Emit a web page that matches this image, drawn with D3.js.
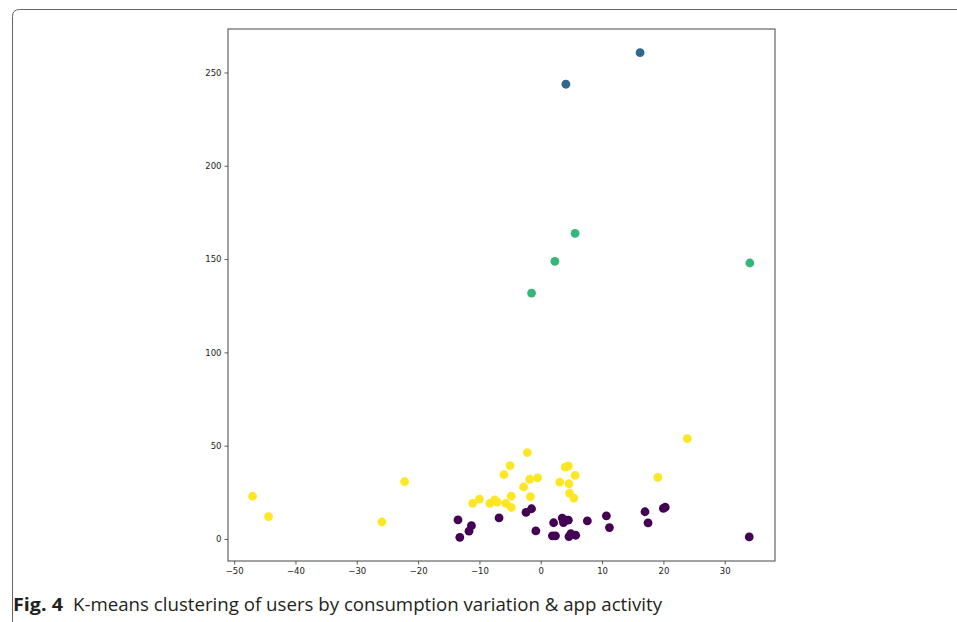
<!DOCTYPE html>
<html>
<head>
<meta charset="utf-8">
<script src="https://cdn.jsdelivr.net/npm/d3@7"></script>
<style>
  body { margin: 0; background: #fff; }
  svg { display: block; }
</style>
</head>
<body>
<div id="chart"></div>
<script>
// consumption variation (x), app activity (y), k-means cluster id
const variation = [
    -13.5, -13.2, -11.3, -11.7, -6.8, -2.4, -1.5, -0.8, 2.1, 3.5, 4.1, 4.5, 3.7,
    1.9, 2.4, 4.6, 4.9, 5.7, 7.6, 10.7, 11.2, 17.0, 17.5, 20.0, 20.3, 34.0,
    16.2, 4.1,
    5.6, 2.3, 34.1, -1.5,
    -47.0, -44.4, -25.9, -22.2, -11.1, -10.0, -8.3, -7.5, -7.1, -5.7, -4.8, -4.8,
    -6.0, -5.0, -2.2, -2.8, -1.8, -0.5, -1.7, 3.1, 4.0, 4.5, 5.6, 4.6, 4.7, 5.4,
    19.1, 23.9
];
const activity = [
    10.2, 0.9, 7.1, 4.2, 11.3, 14.3, 16.2, 4.3, 8.7, 11.2, 10.1, 10.1, 8.8,
    1.7, 1.7, 1.3, 2.8, 2.0, 9.7, 12.4, 6.1, 14.6, 8.6, 16.4, 17.0, 1.1,
    260.6, 243.7,
    163.8, 148.8, 147.9, 131.8,
    22.9, 12.0, 9.1, 30.7, 19.1, 21.4, 19.1, 20.9, 19.7, 19.1, 16.9, 22.9,
    34.5, 39.3, 46.3, 27.9, 32.0, 32.7, 22.7, 30.5, 38.5, 39.1, 34.1, 29.6, 24.6, 21.9,
    33.0, 53.8
];
const cluster = [
    0, 0, 0, 0, 0, 0, 0, 0, 0, 0, 0, 0, 0,
    0, 0, 0, 0, 0, 0, 0, 0, 0, 0, 0, 0, 0,
    1, 1,
    2, 2, 2, 2,
    3, 3, 3, 3, 3, 3, 3, 3, 3, 3, 3, 3,
    3, 3, 3, 3, 3, 3, 3, 3, 3, 3, 3, 3, 3, 3,
    3, 3
];
const xTicks = [-50, -40, -30, -20, -10, 0, 10, 20, 30];
const yTicks = [0, 50, 100, 150, 200, 250];
const captionLabel = 'Fig. 4';
const captionText = 'K-means clustering of users by consumption variation & app activity';

const W = 957, H = 622;
const plot = {left: 228, right: 775, top: 29, bottom: 561};

const svg = d3.select('#chart')
    .append('svg')
    .attr('width', W)
    .attr('height', H);

// page frame with rounded top-left corner (runs off the right and bottom)
svg.append('path')
    .attr('d', 'M12.5,' + (H + 5) + ' V16.5 Q12.5,9.5 19.5,9.5 H' + (W + 5))
    .attr('fill', 'none')
    .attr('stroke', '#666')
    .attr('stroke-width', 1);

const x = d3.scaleLinear()
    .domain([-51.0, 38.2])
    .range([plot.left, plot.right]);

const y = d3.scaleLinear()
    .domain([-11.8, 273.3])
    .range([plot.bottom, plot.top]);

const fmt = d => String(d).replace('-', '\u2212');

const xAxis = svg.append('g')
    .attr('transform', `translate(0, ${plot.bottom})`)
    .call(d3.axisBottom(x).tickValues(xTicks).tickSize(3.5).tickPadding(3).tickFormat(fmt));

const yAxis = svg.append('g')
    .attr('transform', `translate(${plot.left}, 0)`)
    .call(d3.axisLeft(y).tickValues(yTicks).tickSize(3.5).tickPadding(3).tickFormat(fmt));

[xAxis, yAxis].forEach(function(g) {
    g.select('.domain').remove();
    g.selectAll('line').attr('stroke', '#333').attr('stroke-width', 0.8);
    g.selectAll('text')
        .attr('fill', '#222')
        .style('font-family', 'DejaVu Sans')
        .style('font-size', '8.5px');
});

// axes box
svg.append('rect')
    .attr('x', plot.left)
    .attr('y', plot.top)
    .attr('width', plot.right - plot.left)
    .attr('height', plot.bottom - plot.top)
    .attr('fill', 'none')
    .attr('stroke', '#444')
    .attr('stroke-width', 1);

// viridis colours for 4 clusters
const colour = d3.scaleOrdinal()
    .domain([0, 1, 2, 3])
    .range(['#440154', '#31688e', '#35b779', '#fde725']);

const points = variation.map(function(v, i) {
    return {x: v, y: activity[i], c: cluster[i]};
});

svg.append('g')
    .selectAll('circle')
    .data(points)
    .enter()
    .append('circle')
    .attr('cx', d => x(d.x))
    .attr('cy', d => y(d.y))
    .attr('r', 4.4)
    .style('fill', d => colour(d.c));

// caption
const cap = svg.append('text')
    .attr('y', 611)
    .style('font-family', 'Open Sans')
    .style('font-size', '18px')
    .attr('fill', '#231f20');

cap.append('tspan')
    .attr('x', 13)
    .attr('textLength', 50)
    .attr('lengthAdjust', 'spacingAndGlyphs')
    .style('font-weight', 'bold')
    .text(captionLabel);

cap.append('tspan')
    .attr('x', 73)
    .attr('textLength', 589)
    .attr('lengthAdjust', 'spacingAndGlyphs')
    .text(captionText);
</script>
</body>
</html>
